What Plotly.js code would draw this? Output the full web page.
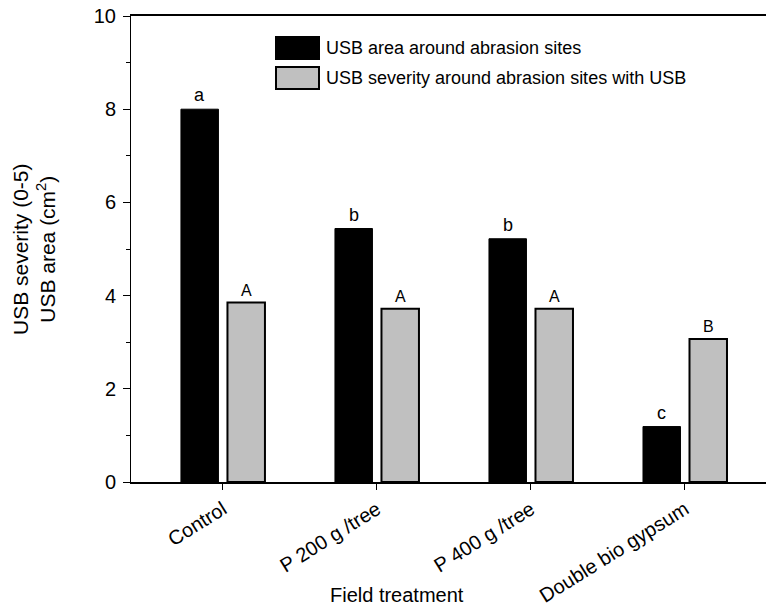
<!DOCTYPE html>
<html>
<head>
<meta charset="utf-8">
<script src="https://cdn.plot.ly/plotly-3.0.1.min.js"></script>
<style>html,body{margin:0;padding:0;background:#fff;}#chart{width:766px;height:608px;}</style>
</head>
<body>
<div id="chart"></div>
<script>
// ---- data ----
const categories = ["Control", "P 200 g /tree", "P 400 g /tree", "Double bio gypsum"];
const seriesNames = ["USB area around abrasion sites", "USB severity around abrasion sites with USB"];
const usbArea = [8.0, 5.44, 5.22, 1.19];
const usbSeverity = [3.85, 3.72, 3.72, 3.07];
const areaLetters = ["a", "b", "b", "c"];
const severityLetters = ["A", "A", "A", "B"];
const yTicks = [0, 2, 4, 6, 8, 10];

const FONT = "Liberation Sans, Arial, sans-serif";
const idx = categories.map((c, i) => i);

const traces = [
  {type: "bar", name: seriesNames[0], x: idx, y: usbArea,
   marker: {color: "#000000", line: {color: "#000000", width: 1}}, showlegend: false, hoverinfo: "skip"},
  {type: "bar", name: seriesNames[1], x: idx, y: usbSeverity,
   marker: {color: "#c0c0c0", line: {color: "#000000", width: 2}}, showlegend: false, hoverinfo: "skip"}
];

// plot area in pixels: left 131, right 766, top 16, bottom 482
const L = 131, R = 766, T = 16, B = 482;
const W = R - L, H = B - T;
const px = v => (v - L) / W;
const py = v => (B - v) / H;

const annotations = [];
const halfSlot = 23.25;
idx.forEach(i => {
  annotations.push({x: i, y: usbArea[i], xref: "x", yref: "y", text: areaLetters[i], showarrow: false,
    xshift: -halfSlot, yanchor: "bottom", yshift: 2, font: {family: FONT, size: 18, color: "#000"}});
  annotations.push({x: i, y: usbSeverity[i], xref: "x", yref: "y", text: severityLetters[i], showarrow: false,
    xshift: halfSlot, yanchor: "bottom", yshift: 2, font: {family: FONT, size: 16, color: "#000"}});
});
// legend texts
annotations.push({x: px(324), y: py(48), xref: "paper", yref: "paper", xanchor: "left", yanchor: "middle",
  text: seriesNames[0], showarrow: false, font: {family: FONT, size: 18, color: "#000"}});
annotations.push({x: px(324), y: py(78), xref: "paper", yref: "paper", xanchor: "left", yanchor: "middle",
  text: seriesNames[1], showarrow: false, font: {family: FONT, size: 18, color: "#000"}});
// y title
annotations.push({x: px(34), y: 0.5, xref: "paper", yref: "paper", xanchor: "center", yanchor: "middle",
  textangle: -90, text: "USB severity (0-5)<br>USB area (cm<sup>2</sup>)", showarrow: false,
  font: {family: FONT, size: 21, color: "#000"}});
// x title
annotations.push({x: px(397), y: py(595), xref: "paper", yref: "paper", xanchor: "center", yanchor: "middle",
  text: "Field treatment", showarrow: false, font: {family: FONT, size: 20, color: "#000"}});

const shapes = [
  {type: "rect", xref: "paper", yref: "paper", x0: px(276), x1: px(319), y0: py(59), y1: py(37),
   fillcolor: "#000000", line: {color: "#000000", width: 2}},
  {type: "rect", xref: "paper", yref: "paper", x0: px(276), x1: px(319), y0: py(89), y1: py(67),
   fillcolor: "#c0c0c0", line: {color: "#000000", width: 2}}
];

const layout = {
  width: 766, height: 608,
  margin: {l: L, r: 766 - R, t: T, b: 608 - B, pad: 0},
  paper_bgcolor: "#ffffff", plot_bgcolor: "#ffffff",
  font: {family: FONT, size: 18, color: "#000"},
  barmode: "group", bargap: 0.396, bargroupgap: 0.194,
  xaxis: {
    range: [-0.597, 3.526], tickmode: "array", tickvals: idx, ticktext: categories,
    tickangle: -32, ticks: "outside", ticklen: 6, tickwidth: 1, tickcolor: "#000",
    showline: true, linecolor: "#000", linewidth: 2, mirror: true, showgrid: false, zeroline: false,
    tickfont: {family: FONT, size: 20, color: "#000"}
  },
  yaxis: {
    range: [0, 10], tickmode: "array", tickvals: yTicks, ticks: "outside", ticklen: 7, tickwidth: 1,
    tickcolor: "#000", showline: true, linecolor: "#000", linewidth: 1, showgrid: false, zeroline: false,
    ticklabelstandoff: 3,
    tickfont: {family: FONT, size: 20, color: "#000"},
    minor: {dtick: 1, ticks: "outside", ticklen: 4, tickcolor: "#000", showgrid: false}
  },
  annotations: annotations,
  shapes: shapes,
  showlegend: false
};

Plotly.newPlot("chart", traces, layout, {staticPlot: true, displayModeBar: false});
</script>
</body>
</html>
